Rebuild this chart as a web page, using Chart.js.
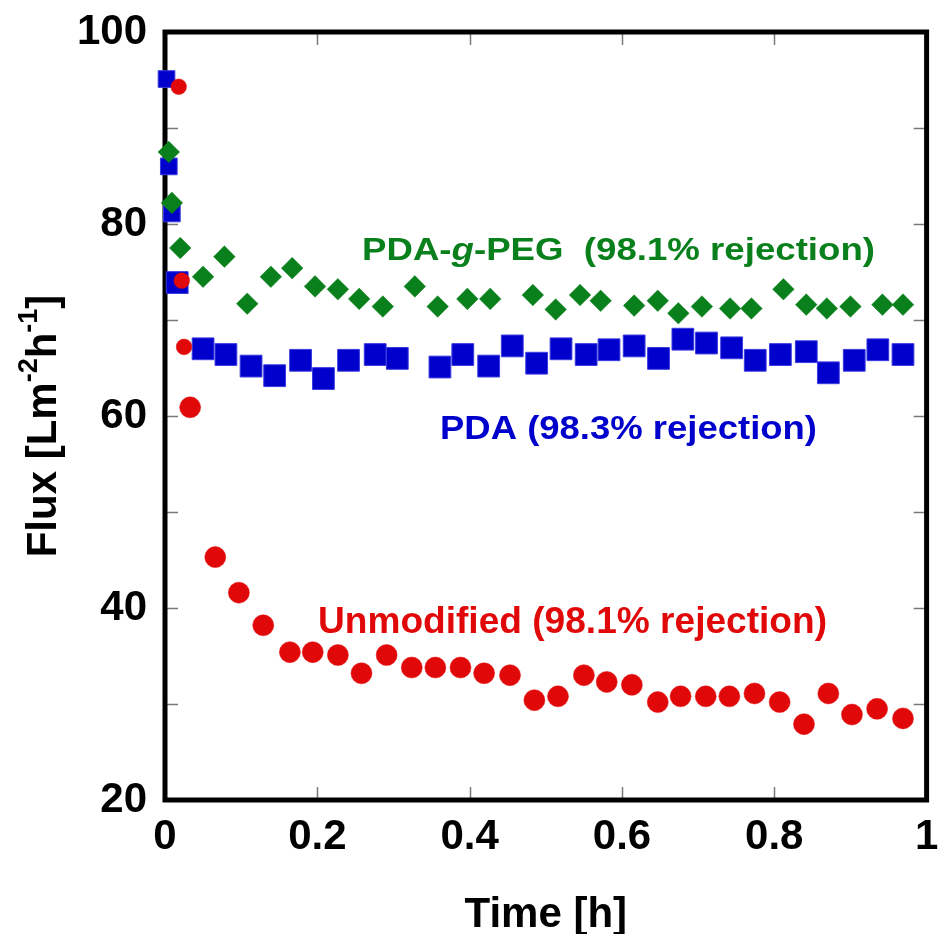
<!DOCTYPE html>
<html>
<head>
<meta charset="utf-8">
<script src="https://cdn.jsdelivr.net/npm/chart.js@4/dist/chart.umd.min.js"></script>
<style>
  html, body { margin: 0; padding: 0; background: #fff; }
  #wrap { width: 943px; height: 934px; }
</style>
</head>
<body>
<div id="wrap"><canvas id="chart" width="943" height="934"></canvas></div>
<script>
// values: time [h] and flux [L m-2 h-1]
const unmodifiedTime = [0.018, 0.022, 0.025, 0.033, 0.066, 0.097, 0.129, 0.164, 0.194, 0.227, 0.258,
    0.291, 0.324, 0.355, 0.388, 0.419, 0.453, 0.485, 0.516, 0.550, 0.580, 0.613, 0.647, 0.677,
    0.710, 0.741, 0.774, 0.807, 0.839, 0.871, 0.902, 0.935, 0.969];
const unmodifiedFlux = [94.3, 74.1, 67.2, 60.9, 45.3, 41.6, 38.2, 35.4, 35.4, 35.1, 33.2,
    35.1, 33.8, 33.8, 33.8, 33.2, 33.0, 30.4, 30.8, 33.0, 32.3, 32.0, 30.2, 30.8,
    30.8, 30.8, 31.1, 30.2, 27.9, 31.1, 28.9, 29.5, 28.5];

const pdaTime = [0.002, 0.005, 0.009, 0.016, 0.050, 0.080, 0.113, 0.144, 0.178, 0.208, 0.241,
    0.276, 0.305, 0.361, 0.391, 0.425, 0.456, 0.488, 0.520, 0.553, 0.583, 0.616, 0.648,
    0.680, 0.711, 0.744, 0.775, 0.808, 0.842, 0.871, 0.905, 0.936, 0.969];
const pdaFlux = [95.1, 86.0, 81.1, 73.9, 67.0, 66.4, 65.2, 64.2, 65.8, 63.9, 65.8,
    66.4, 66.0, 65.1, 66.4, 65.2, 67.3, 65.5, 67.0, 66.4, 66.9, 67.3, 66.0,
    68.0, 67.6, 67.1, 65.8, 66.4, 66.7, 64.5, 65.8, 66.9, 66.4];

const pegTime = [0.005, 0.009, 0.020, 0.050, 0.078, 0.108, 0.139, 0.167, 0.197, 0.227, 0.255,
    0.286, 0.328, 0.358, 0.397, 0.427, 0.483, 0.513, 0.545, 0.572, 0.616, 0.647,
    0.674, 0.705, 0.742, 0.770, 0.812, 0.842, 0.869, 0.900, 0.942, 0.969];
const pegFlux = [87.5, 82.2, 77.5, 74.5, 76.6, 71.7, 74.5, 75.4, 73.5, 73.2, 72.2,
    71.4, 73.5, 71.4, 72.2, 72.2, 72.6, 71.1, 72.6, 72.0, 71.5, 72.0,
    70.7, 71.4, 71.2, 71.2, 73.2, 71.6, 71.2, 71.4, 71.6, 71.6];

const xLabels = [0, 0.2, 0.4, 0.6, 0.8, 1];
const yLabels = [20, 40, 60, 80, 100];

const RED = "#e00808";
const BLUE = "#0000cc";
const GREEN = "#0a801c";
const FONT = '"Liberation Sans", Arial, sans-serif';

function toPoints(xs, ys) {
    return xs.map((x, i) => ({ x: x, y: ys[i] }));
}

// the first few readings were plotted with smaller symbols
function earlyRadius(n, small, normal) {
    return (ctx) => (ctx.dataIndex < n ? small : normal);
}

function drawRich(ctx, segments, x, y, width) {
    let total = 0;
    segments.forEach((s) => {
        ctx.font = s.font;
        total += ctx.measureText(s.text).width;
    });
    ctx.save();
    ctx.translate(x, y);
    if (width) ctx.scale(width / total, 1);
    let cx = 0;
    segments.forEach((s) => {
        ctx.font = s.font;
        ctx.fillStyle = s.color;
        ctx.fillText(s.text, cx, s.rise ? -s.rise : 0);
        cx += ctx.measureText(s.text).width;
    });
    ctx.restore();
    return total;
}

const framePlugin = {
    id: "frame",
    beforeDatasetsDraw(chart) {
        const { ctx, chartArea: a, scales } = chart;
        ctx.save();
        ctx.strokeStyle = "#7a7a7a";
        ctx.lineWidth = 1.5;
        const len = 13;
        scales.x.ticks.forEach((t) => {
            if (t.value <= scales.x.min || t.value >= scales.x.max) return;
            const px = Math.round(scales.x.getPixelForValue(t.value)) + 0.5;
            ctx.beginPath();
            ctx.moveTo(px, a.bottom);
            ctx.lineTo(px, a.bottom - len);
            ctx.moveTo(px, a.top);
            ctx.lineTo(px, a.top + len);
            ctx.stroke();
        });
        scales.y.ticks.forEach((t) => {
            if (t.value <= scales.y.min || t.value >= scales.y.max) return;
            const py = Math.round(scales.y.getPixelForValue(t.value)) + 0.5;
            ctx.beginPath();
            ctx.moveTo(a.left, py);
            ctx.lineTo(a.left + len, py);
            ctx.moveTo(a.right, py);
            ctx.lineTo(a.right - len, py);
            ctx.stroke();
        });
        ctx.strokeStyle = "#000";
        ctx.lineWidth = 5;
        ctx.strokeRect(a.left, a.top, a.right - a.left, a.bottom - a.top);
        ctx.restore();
    },
    afterDraw(chart) {
        const { ctx, chartArea: a } = chart;
        ctx.save();
        ctx.textBaseline = "alphabetic";
        ctx.textAlign = "left";

        // axis titles
        const main = "bold 42px " + FONT;
        const sup = "bold 27px " + FONT;
        const tw = drawRich(ctx, [{ text: "Time [h]", font: main, color: "#000" }], -9999, -9999);
        drawRich(ctx, [{ text: "Time [h]", font: main, color: "#000" }],
            (a.left + a.right) / 2 - tw / 2, 927);

        const ySegs = [
            { text: "Flux [Lm", font: main, color: "#000" },
            { text: "-2", font: sup, color: "#000", rise: 19 },
            { text: "h", font: main, color: "#000" },
            { text: "-1", font: sup, color: "#000", rise: 19 },
            { text: "]", font: main, color: "#000" },
        ];
        ctx.save();
        ctx.translate(56, 426);
        ctx.rotate(-Math.PI / 2);
        const yw = drawRich(ctx, ySegs, -9999, -9999);
        drawRich(ctx, ySegs, -yw / 2, 0);
        ctx.restore();

        // series annotations
        drawRich(ctx, [
            { text: "PDA-", font: "bold 31px " + FONT, color: GREEN },
            { text: "g", font: "italic bold 31px " + FONT, color: GREEN },
            { text: "-PEG  (98.1% rejection)", font: "bold 31px " + FONT, color: GREEN },
        ], 362, 260, 513);
        drawRich(ctx, [
            { text: "PDA (98.3% rejection)", font: "bold 33px " + FONT, color: BLUE },
        ], 440, 439, 377);
        drawRich(ctx, [
            { text: "Unmodified (98.1% rejection)", font: "bold 36px " + FONT, color: RED },
        ], 318, 633, 509);
        ctx.restore();
    },
};

const tickFont = { family: FONT, size: 42, weight: "bold" };

// outside tick marks are kept only as spacing for the labels
const hiddenGrid = (len) => ({
    display: true,
    drawOnChartArea: false,
    drawTicks: true,
    tickLength: len,
    color: "rgba(0,0,0,0)",
});

new Chart(document.getElementById("chart"), {
    type: "scatter",
    data: {
        datasets: [
            {
                label: "Unmodified",
                data: toPoints(unmodifiedTime, unmodifiedFlux),
                pointStyle: "circle",
                pointRadius: earlyRadius(3, 7.8, 10.5),
                backgroundColor: RED,
                borderColor: RED,
                pointBorderWidth: 0.5,
                order: 1,
            },
            {
                label: "PDA-g-PEG",
                data: toPoints(pegTime, pegFlux),
                pointStyle: "rectRot",
                pointRadius: 10.8,
                backgroundColor: GREEN,
                borderColor: GREEN,
                pointBorderWidth: 0.5,
                order: 2,
            },
            {
                label: "PDA",
                data: toPoints(pdaTime, pdaFlux),
                pointStyle: "rect",
                pointRadius: earlyRadius(3, 11.8, 15.4),
                backgroundColor: BLUE,
                borderColor: "#3a3ae0",
                pointBorderWidth: 1,
                order: 3,
            },
        ],
    },
    options: {
        responsive: false,
        animation: false,
        clip: false,
        layout: { padding: { top: 32, right: 11, left: 0, bottom: 0 } },
        plugins: {
            legend: { display: false },
            tooltip: { enabled: false },
        },
        scales: {
            x: {
                type: "linear",
                min: 0,
                max: 1,
                grid: hiddenGrid(12),
                border: { display: false },
                ticks: {
                    stepSize: 0.2,
                    autoSkip: false,
                    maxRotation: 0,
                    color: "#000",
                    font: tickFont,
                    padding: 0,
                    callback: (v) => {
                        const r = +Number(v).toFixed(1);
                        return xLabels.includes(r) ? String(r) : "";
                    },
                },
                afterFit: (s) => { s.height = 134; },
            },
            y: {
                type: "linear",
                min: 20,
                max: 100,
                grid: hiddenGrid(18),
                border: { display: false },
                ticks: {
                    stepSize: 10,
                    autoSkip: false,
                    color: "#000",
                    font: tickFont,
                    padding: 0,
                    callback: (v) => (yLabels.includes(v) ? String(v) : ""),
                },
                afterFit: (s) => { s.width = 165; },
            },
        },
    },
    plugins: [framePlugin],
});
</script>
</body>
</html>
